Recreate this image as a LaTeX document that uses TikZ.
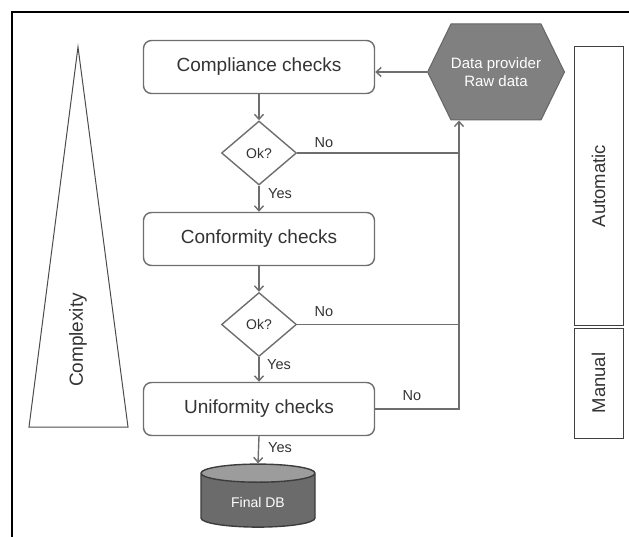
\documentclass[tikz,border=0pt]{standalone}
\usepackage{fontspec}
\setmainfont{Liberation Sans}
\usetikzlibrary{shapes.geometric,shapes.symbols,arrows.meta}

\definecolor{linegray}{HTML}{6E6E6E}
\definecolor{textgray}{HTML}{333333}
\definecolor{hexfill}{HTML}{808080}
\definecolor{dbbody}{HTML}{6B6B6B}
\definecolor{dbtop}{HTML}{9C9C9C}
\definecolor{dbline}{HTML}{3C3C3C}

\begin{document}
\begin{tikzpicture}[x=1pt,y=-1pt,
  checkbox/.style={draw=linegray,line width=1.4pt,rounded corners=8pt,minimum width=231pt,minimum height=53pt,inner sep=0pt,text=textgray,font=\fontsize{19}{22}\selectfont},
  okdiamond/.style={diamond,draw=linegray,line width=1.4pt,minimum width=75pt,minimum height=64pt,inner sep=0pt,text=textgray,font=\fontsize{14}{16}\selectfont},
  answer/.style={text=textgray,font=\fontsize{14.5}{16}\selectfont},
  sidebox/.style={draw=black!75,line width=1pt,rotate=90,minimum height=49pt,inner sep=0pt,text=textgray,font=\fontsize{18.5}{20}\selectfont},
  flow/.style={draw=linegray,line width=1.4pt,-{Straight Barb[length=5pt,width=9pt]}},
  link/.style={draw=linegray,line width=1.4pt}]
%\draw (0,0) grid (629,537);
\useasboundingbox (0,0) rectangle (629,537);

\draw [line width=1.6pt] (12,545) -- (12,12) -- (640,12);

\draw [black!70, line width=1pt] (78,47) -- (128,427) -- (29,427) -- cycle;
\node [rotate=90,text=textgray,font=\fontsize{19}{21}\selectfont] (cplx) at (78,340) {Complexity};

\node [checkbox] (compl) at (259,67) {Compliance checks};
\node [okdiamond] (ok1) at (259,153) {Ok?};
\node [checkbox] (conf) at (259,239) {Conformity checks};
\node [okdiamond] (ok2) at (259,324.5) {Ok?};
\node [checkbox] (unif) at (259,409) {Uniformity checks};

\node [cylinder,shape border rotate=90,aspect=0.3,minimum height=63pt,minimum width=114pt,
  draw=dbline,line width=1.4pt,cylinder uses custom fill,cylinder body fill=dbbody,cylinder end fill=dbtop,
  text=white,font=\fontsize{14}{16}\selectfont] (db) at (258,502) {Final DB};

\node [signal,signal to=east and west,signal pointer angle=128,minimum width=123pt,minimum height=96pt,
  inner sep=0pt,fill=hexfill,draw=black!60,line width=1pt,text=white,align=center,
  font=\fontsize{15}{18}\selectfont] (hex) at (496,72) {Data provider\\Raw data};

\node [sidebox,minimum width=278pt] (auto) at (598.5,186) {Automatic};
\node [sidebox,minimum width=110pt] (manual) at (598.5,383) {Manual};

\coordinate (bus) at (459,0);

\draw [flow] (hex.west) -- (hex.west -| compl.east);
\draw [flow] (compl.south) -- (ok1.north);
\draw [flow] (ok1.south) -- (conf.north);
\draw [flow] (conf.south) -- (ok2.north);
\draw [flow] (ok2.south) -- (unif.north);
\draw [flow] (unif.south) -- (db.north);

\draw [link] (ok1.east) -- (ok1.east -| bus);
\draw [link] (ok2.east) -- (ok2.east -| bus);
\draw [flow] (unif.east) -- (unif.east -| bus) -- (bus |- hex.south);

\node [answer] (no1) at (324,143) {No};
\node [answer] (yes1) at (280,194) {Yes};
\node [answer] (no2) at (324,312) {No};
\node [answer] (yes2) at (279,365) {Yes};
\node [answer] (no3) at (412,396) {No};
\node [answer] (yes3) at (280,448) {Yes};
\end{tikzpicture}
\end{document}
